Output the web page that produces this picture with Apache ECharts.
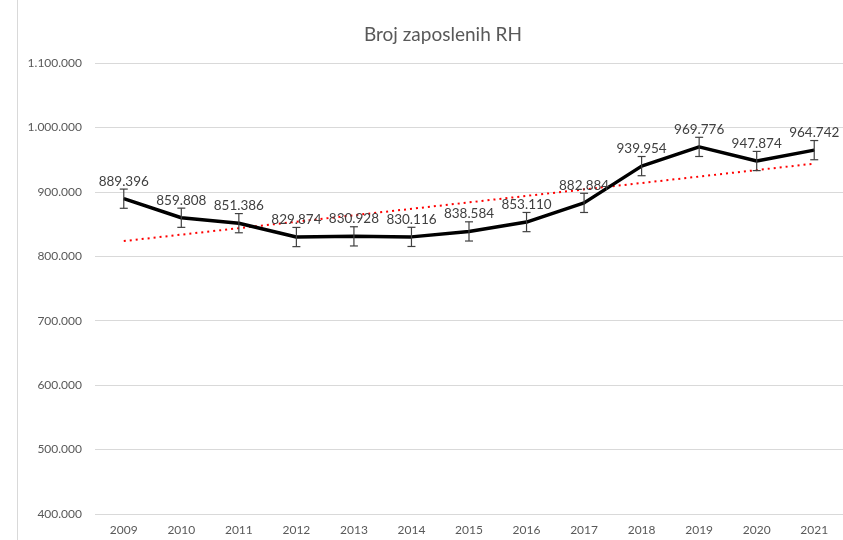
<!DOCTYPE html>
<html>
<head>
<meta charset="utf-8">
<script src="https://cdn.jsdelivr.net/npm/echarts@6/dist/echarts.min.js"></script>
<style>
  html, body { margin: 0; padding: 0; background: #fff; }
  #myChart { width: 843px; height: 540px; }
</style>
</head>
<body>
<div id="myChart"></div>
<script>
// podaci
const years = ['2009', '2010', '2011', '2012', '2013', '2014', '2015', '2016', '2017', '2018', '2019', '2020', '2021']
const employed = [889396, 859808, 851386, 829874, 830928, 830116, 838584, 853110, 882884, 939954, 969776, 947874, 964742]
const errorAmount = 14900 // standardna greška, očitano sa slike
const trendStart = 823600 // linearni trend, 2009
const trendEnd = 943800 // linearni trend, 2021

const fmt = v => String(Math.round(v)).replace(/\B(?=(\d{3})+(?!\d))/g, '.')
const font = 'Lato, "Open Sans", sans-serif'

const myChart = echarts.init(document.getElementById('myChart'))
myChart.setOption({
  animation: false,
  title: {
    text: 'Broj zaposlenih RH',
    left: 438,
    top: 20,
    textAlign: 'center',
    textStyle: { color: '#595959', fontSize: 19, fontWeight: 'normal', fontFamily: font }
  },
  graphic: [{
    type: 'line',
    shape: { x1: 17.5, y1: 0, x2: 17.5, y2: 540 },
    style: { stroke: '#d9d9d9', lineWidth: 1 }
  }],
  grid: { left: 95, right: 0, top: 63, bottom: 26 },
  xAxis: {
    type: 'category',
    data: years,
    axisLine: { show: false },
    axisTick: { show: false },
    axisLabel: { color: '#595959', fontSize: 12, fontFamily: font, margin: 10 }
  },
  yAxis: {
    type: 'value',
    min: 400000,
    max: 1100000,
    interval: 100000,
    axisLabel: { color: '#595959', fontSize: 12, fontFamily: font, margin: 13, formatter: fmt },
    splitLine: { lineStyle: { color: '#d9d9d9' } }
  },
  series: [{
    // trend linija
    type: 'line',
    data: [[0, trendStart], [12, trendEnd]],
    symbol: 'none',
    silent: true,
    lineStyle: { color: '#ff0000', width: 2, type: [2, 4] },
    z: 1
  }, {
    name: 'Broj zaposlenih',
    type: 'line',
    data: employed,
    symbol: 'circle',
    symbolSize: 1,
    itemStyle: { color: '#000' },
    lineStyle: { color: '#000', width: 3.5 },
    label: {
      show: true,
      position: 'top',
      distance: 10,
      color: '#404040',
      fontSize: 13.5,
      fontFamily: font,
      formatter: p => fmt(p.value)
    },
    z: 3
  }, {
    // error barovi
    type: 'custom',
    data: employed.map((v, i) => [i, v - errorAmount, v + errorAmount]),
    renderItem (params, api) {
      const lo = api.coord([api.value(0), api.value(1)])
      const hi = api.coord([api.value(0), api.value(2)])
      const w = 4
      const st = { stroke: '#404040', lineWidth: 1.2 }
      return {
        type: 'group',
        children: [
          { type: 'line', shape: { x1: lo[0], y1: lo[1], x2: hi[0], y2: hi[1] }, style: st },
          { type: 'line', shape: { x1: lo[0] - w, y1: lo[1], x2: lo[0] + w, y2: lo[1] }, style: st },
          { type: 'line', shape: { x1: hi[0] - w, y1: hi[1], x2: hi[0] + w, y2: hi[1] }, style: st }
        ]
      }
    },
    z: 4
  }]
})
</script>
</body>
</html>
